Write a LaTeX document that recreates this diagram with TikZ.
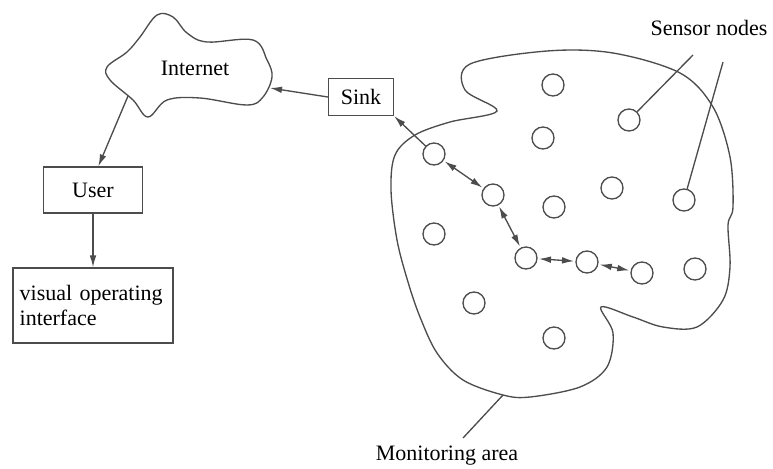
\documentclass[tikz,border=0pt]{standalone}
\usepackage{fontspec}
\setmainfont{Liberation Serif}
\usetikzlibrary{arrows.meta}
\begin{document}
\begin{tikzpicture}[x=0.75pt, y=-0.75pt, line width=1pt, color=black!70, >={Latex[length=9pt,width=5pt]},
  every node/.style={text=black, font=\fontsize{16.5}{19}\selectfont},
  box/.style={draw=black!70, rectangle, inner sep=0pt},
  sensor/.style={draw=black!70, circle, minimum size=16.5pt, inner sep=0pt},
  link/.style={<->, shorten >=1pt, shorten <=1pt}]
\useasboundingbox (0,0) rectangle (773,468);
% CLOUD
\draw plot[smooth cycle, tension=0.6] coordinates {(107,67) (127,52) (140,37) (157,15) (173,17) (187,33) (207,42) (253,40) (267,60) (272,77) (263,97) (247,105) (200,98) (167,100) (148,117) (133,100) (110,80)};
\node (Net) at (195,68) {Internet};
\coordinate (netE) at (270,88);
\coordinate (netS) at (128,96);
% BOXES
\node[box, minimum width=48.75pt, minimum height=27.75pt] (Sink) at (361,97) {Sink};
\node[box, minimum width=74.25pt, minimum height=34.5pt] (User) at (93,190) {User};
\node[box, minimum width=120pt, minimum height=56.25pt, text width=110pt, inner xsep=5pt, align=left] (Gui) at (93,305.5) {visual operating\\interface};
% MONITORING AREA
\draw plot[smooth cycle, tension=0.55] coordinates {(497,111) (465,90) (470,64) (547,51) (613,53) (680,73) (713,107) (730,157) (733,207) (728,225) (730,267) (723,300) (697,327) (663,327) (633,317) (601,307) (613,333) (607,367) (580,387) (530,397) (503,395) (463,380) (437,353) (420,317) (408,282) (397,240) (391,190) (395,155) (415,135) (450,122)};
\coordinate (areaPt) at (503,395);
% SENSOR NODES
\node[sensor] (s1) at (553,85) {};
\node[sensor] (s2) at (629,120) {};
\node[sensor] (s3) at (543,138) {};
\node[sensor] (s4) at (434,154) {};
\node[sensor] (s5) at (493,195) {};
\node[sensor] (s6) at (612,188) {};
\node[sensor] (s7) at (554,207) {};
\node[sensor] (s8) at (684,200) {};
\node[sensor] (s9) at (434,234) {};
\node[sensor] (s10) at (526,258) {};
\node[sensor] (s11) at (587,262) {};
\node[sensor] (s12) at (642,273) {};
\node[sensor] (s13) at (695,269) {};
\node[sensor] (s14) at (474,303) {};
\node[sensor] (s15) at (554,338) {};
% LABELS
\node (SensLbl) at (709,28) {Sensor nodes};
\coordinate (p1) at (693,55);
\coordinate (p2) at (723,62);
\node (AreaLbl) at (447,456) {Monitoring area};
\coordinate (p3) at (463,438);
% CONNECTORS
\draw[->] (s4) -- (Sink.south east);
\draw[link] (s4) -- (s5);
\draw[link] (s5) -- (s10);
\draw[link] (s10) -- (s11);
\draw[link] (s11) -- (s12);
\draw[->] (Sink.west) -- (netE);
\draw[->] (netS) -- ([xshift=4pt]User.north);
\draw[->] (User.south) -- (Gui.north);
\draw (p1) -- (s2);
\draw (p2) -- (s8);
\draw (areaPt) -- (p3);
\end{tikzpicture}
\end{document}
